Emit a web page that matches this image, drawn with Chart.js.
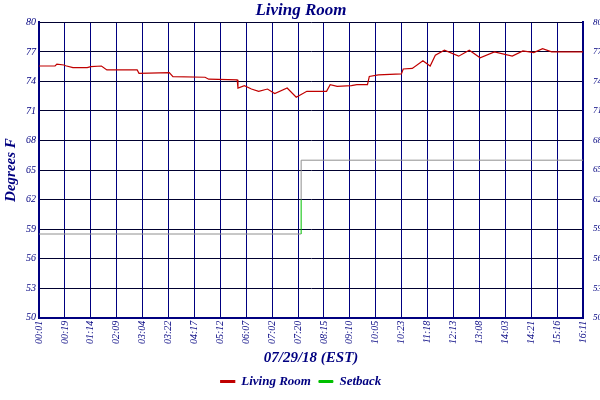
<!DOCTYPE html>
<html><head><script src="https://cdn.jsdelivr.net/npm/chart.js@4"></script>
<style>body{margin:0;background:#fff}#wrap{width:600px;height:400px}</style></head>
<body><div id="wrap"><canvas id="c"></canvas></div>
<script>
const timeLabels = ['00:01','00:19','01:14','02:09','03:04','03:22','04:17','05:12','06:07','07:02','07:20','08:15','09:10','10:05','10:23','11:18','12:13','13:08','14:03','14:21','15:16','16:11'];
const roomX = [0,0.62,0.69,0.96,1.03,1.31,1.86,2.0,2.41,2.62,3.79,3.86,5.03,5.17,6.41,6.55,7.65,7.68,7.93,8.20,8.48,8.82,9.10,9.58,9.93,10.34,11.10,11.24,11.51,12.06,12.27,12.68,12.75,13.10,13.99,14.06,14.41,14.82,15.10,15.30,15.65,16.20,16.61,17.03,17.58,18.27,18.68,19.10,19.44,19.79,20.89,21];
const roomY = [75.57,75.57,75.77,75.67,75.6,75.4,75.4,75.5,75.57,75.17,75.17,74.83,74.9,74.5,74.43,74.23,74.17,73.33,73.57,73.23,73.0,73.23,72.77,73.33,72.4,73.0,73.0,73.67,73.5,73.57,73.67,73.67,74.5,74.67,74.77,75.27,75.33,76.1,75.57,76.67,77.17,76.57,77.17,76.4,77.0,76.57,77.1,76.93,77.33,77.0,77.0,77.0];
const setbackX = [0,10.12,10.12,10.12,21];
const setbackY = [58.5,58.5,62,66,66];
const yTicks = [50,53,56,59,62,65,68,71,74,77,80];
const navy = '#000080';
const font = {family:'Liberation Serif', style:'italic'};
new Chart(document.getElementById('c'), {
  type:'line',
  data:{datasets:[
    {label:'Living Room', data:roomX.map((x,i)=>({x, y:roomY[i]})), borderColor:'#c00000', backgroundColor:'#c00000', borderWidth:1.2, pointRadius:0, tension:0, stepped:false},
    {label:'Setback', data:setbackX.map((x,i)=>({x, y:setbackY[i]})), borderColor:'#00c000', backgroundColor:'#00c000', borderWidth:1, pointRadius:0, tension:0,
      segment:{borderColor:ctx=>ctx.p0DataIndex===1?'#00c000':'#909090'}}
  ]},
  options:{
    responsive:true, maintainAspectRatio:false, animation:false,
    layout:{padding:{left:2,right:0,top:0,bottom:2}},
    plugins:{
      title:{display:true, text:'Living Room', color:navy, font:{...font, size:17, weight:'bold'}, padding:{top:0,bottom:2}},
      legend:{position:'bottom', labels:{color:navy, font:{...font, size:13, weight:'bold'}, boxWidth:14, boxHeight:2, padding:8}},
      tooltip:{enabled:false}
    },
    scales:{
      x:{type:'linear', min:0, max:21,
        afterBuildTicks:a=>{a.ticks=timeLabels.map((_,i)=>({value:i}));},
        ticks:{color:navy, font:{...font,size:10}, minRotation:90, maxRotation:90, autoSkip:false, callback:v=>timeLabels[v]},
        grid:{color:navy, drawTicks:false, lineWidth:1}, border:{color:navy,width:2},
        title:{display:true, text:'07/29/18 (EST)', color:navy, font:{...font,size:15,weight:'bold'}, padding:{top:2,bottom:0}}},
      y:{min:50, max:80, afterBuildTicks:a=>{a.ticks=yTicks.map(v=>({value:v}));},
        ticks:{color:navy, font:{...font,size:10}, padding:3},
        grid:{color:'#000030', drawTicks:false}, border:{color:navy,width:2},
        afterFit:a=>{a.width=37;},
        title:{display:true, text:'Degrees F', color:navy, font:{...font,size:15,weight:'bold'}, padding:0}},
      y2:{position:'right', min:50, max:80, afterBuildTicks:a=>{a.ticks=yTicks.map(v=>({value:v}));},
        ticks:{color:navy, font:{...font,size:9}, padding:2}, grid:{display:false}, border:{color:navy,width:2},
        afterFit:a=>{a.width=17;}}
    }
  }
});
</script></body></html>
